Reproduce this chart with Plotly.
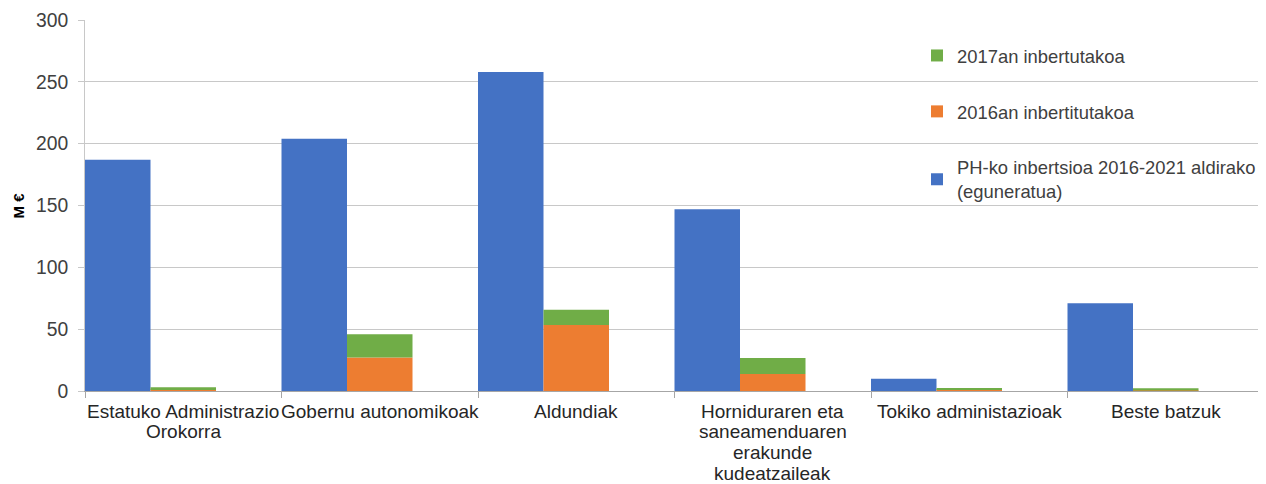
import plotly.graph_objects as go

categories = [
    "Estatuko Administrazio<br>Orokorra",
    "Gobernu autonomikoak",
    "Aldundiak",
    "Horniduraren eta<br>saneamenduaren<br>erakunde<br>kudeatzaileak",
    "Tokiko administazioak",
    "Beste batzuk",
]
ph_inbertsioa = [187, 204, 258, 147, 10, 71]
inv_2016 = [1.6, 27, 53.4, 13.7, 1.5, 0.4]
inv_2017 = [1.4, 18.8, 12.3, 13.0, 0.6, 1.8]

base_2017 = [a for a in inv_2016]

BLUE = "#4472C4"
ORANGE = "#ED7D31"
GREEN = "#70AD47"

# page body has an 8px margin; figure is sized/offset to compensate
W, H = 1258, 476
ML, MR, MT, MB = 77, 2, 12, 93
plot_h = H - MT - MB

fig = go.Figure()
fig.add_trace(go.Bar(
    x=categories, y=ph_inbertsioa, name="PH-ko inbertsioa 2016-2021 aldirako<br>(eguneratua)",
    marker=dict(color=BLUE, line=dict(width=0)), offset=-0.5, width=1/3,
    legendgroup="a", legendrank=3,
))
fig.add_trace(go.Bar(
    x=categories, y=inv_2016, name="2016an inbertitutakoa",
    marker=dict(color=ORANGE, line=dict(width=0)), offset=-0.5 + 1/3, width=1/3,
    legendgroup="b", legendrank=2,
))
fig.add_trace(go.Bar(
    x=categories, y=inv_2017, base=base_2017, name="2017an inbertutakoa",
    marker=dict(color=GREEN, line=dict(width=0)), offset=-0.5 + 1/3, width=1/3,
    legendgroup="c", legendrank=1,
))

annotations = [dict(
    text="<b>M €</b>", x=0, xref="paper", y=0.5, yref="paper",
    xanchor="center", yanchor="middle", xshift=-67, textangle=-90,
    showarrow=False, font=dict(size=15, color="#000000"),
)]
# category labels, one text per line for tighter line spacing
for cat in categories:
    for i, line in enumerate(cat.split("<br>")):
        annotations.append(dict(
            text=line, x=cat, xref="x", y=0, yref="y",
            xanchor="center", yanchor="middle", yshift=-20 - 20.9 * i,
            showarrow=False, font=dict(size=19, color="#262626"),
        ))

fig.update_layout(
    width=W, height=H,
    barmode="overlay",
    plot_bgcolor="white", paper_bgcolor="white",
    margin=dict(l=ML, r=MR, t=MT, b=MB, autoexpand=False),
    font=dict(family="Liberation Sans, Arial, sans-serif", size=19, color="#404040"),
    legend=dict(
        x=(909 - ML) / (W - ML - MR), y=(383 - 29) / plot_h, xanchor="left", yanchor="top",
        traceorder="grouped", tracegroupgap=29,
        font=dict(size=18.4, color="#404040"),
        bgcolor="rgba(0,0,0,0)", itemwidth=30,
    ),
    xaxis=dict(
        type="category", tickson="boundaries", ticks="outside", ticklen=6,
        tickcolor="#a6a6a6", showline=True, linecolor="#a6a6a6", linewidth=1,
        showticklabels=False, showgrid=False, range=[-0.5, 5.5], automargin=False,
    ),
    yaxis=dict(
        range=[0, 300], dtick=50, showgrid=True, gridcolor="#c8c8c8", gridwidth=1,
        showline=True, linecolor="#c8c8c8", ticks="outside", ticklen=6, tickcolor="#c8c8c8",
        zeroline=False, automargin=False, ticklabelstandoff=6,
        tickfont=dict(size=19.3, color="#404040"),
    ),
    annotations=annotations,
)

fig.write_html("out.html")
